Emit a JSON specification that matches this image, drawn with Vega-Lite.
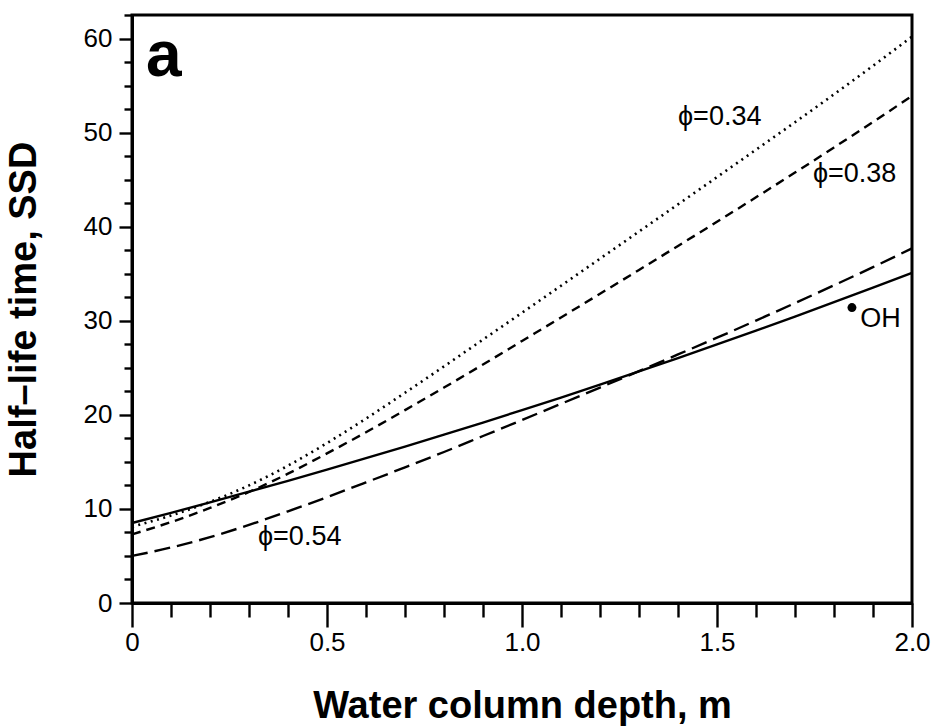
{
  "$schema": "https://vega.github.io/schema/vega-lite/v6.json",
  "width": 780,
  "height": 588,
  "autosize": {"type": "none"},
  "padding": {"left": 132, "top": 15, "right": 25, "bottom": 124},
  "background": "white",
  "config": {
    "view": {"stroke": "black", "strokeWidth": 3},
    "axis": {
      "grid": false,
      "domainColor": "black",
      "tickColor": "black",
      "labelColor": "black",
      "labelFont": "Liberation Sans",
      "labelFontSize": 26,
      "titleFont": "Liberation Sans",
      "titleFontWeight": "bold",
      "titleColor": "black"
    }
  },
  "datasets": {
    "curves": [
      {"x": 0.0, "y": 8.5, "series": "OH"}, {"x": 0.1, "y": 9.58, "series": "OH"}, {"x": 0.2, "y": 10.69, "series": "OH"}, {"x": 0.3, "y": 11.83, "series": "OH"}, {"x": 0.4, "y": 12.99, "series": "OH"}, {"x": 0.5, "y": 14.18, "series": "OH"}, {"x": 0.6, "y": 15.39, "series": "OH"}, {"x": 0.7, "y": 16.63, "series": "OH"}, {"x": 0.8, "y": 17.89, "series": "OH"}, {"x": 0.9, "y": 19.18, "series": "OH"}, {"x": 1.0, "y": 20.5, "series": "OH"}, {"x": 1.1, "y": 21.84, "series": "OH"}, {"x": 1.2, "y": 23.21, "series": "OH"}, {"x": 1.3, "y": 24.61, "series": "OH"}, {"x": 1.4, "y": 26.03, "series": "OH"}, {"x": 1.5, "y": 27.48, "series": "OH"}, {"x": 1.6, "y": 28.95, "series": "OH"}, {"x": 1.7, "y": 30.45, "series": "OH"}, {"x": 1.8, "y": 31.97, "series": "OH"}, {"x": 1.9, "y": 33.52, "series": "OH"}, {"x": 2.0, "y": 35.1, "series": "OH"},
      {"x": 0.0, "y": 5.0, "series": "0.54"}, {"x": 0.1, "y": 5.9, "series": "0.54"}, {"x": 0.2, "y": 7.0, "series": "0.54"}, {"x": 0.3, "y": 8.3, "series": "0.54"}, {"x": 0.4, "y": 9.75, "series": "0.54"}, {"x": 0.5, "y": 11.25, "series": "0.54"}, {"x": 0.6, "y": 12.82, "series": "0.54"}, {"x": 0.7, "y": 14.42, "series": "0.54"}, {"x": 0.8, "y": 16.05, "series": "0.54"}, {"x": 0.9, "y": 17.75, "series": "0.54"}, {"x": 1.0, "y": 19.45, "series": "0.54"}, {"x": 1.1, "y": 21.17, "series": "0.54"}, {"x": 1.2, "y": 22.9, "series": "0.54"}, {"x": 1.3, "y": 24.65, "series": "0.54"}, {"x": 1.4, "y": 26.42, "series": "0.54"}, {"x": 1.5, "y": 28.2, "series": "0.54"}, {"x": 1.6, "y": 30.02, "series": "0.54"}, {"x": 1.7, "y": 31.88, "series": "0.54"}, {"x": 1.8, "y": 33.77, "series": "0.54"}, {"x": 1.9, "y": 35.7, "series": "0.54"}, {"x": 2.0, "y": 37.7, "series": "0.54"},
      {"x": 0.0, "y": 7.3, "series": "0.38"}, {"x": 0.1, "y": 8.6, "series": "0.38"}, {"x": 0.2, "y": 10.1, "series": "0.38"}, {"x": 0.3, "y": 11.8, "series": "0.38"}, {"x": 0.4, "y": 13.75, "series": "0.38"}, {"x": 0.5, "y": 15.9, "series": "0.38"}, {"x": 0.6, "y": 18.15, "series": "0.38"}, {"x": 0.7, "y": 20.5, "series": "0.38"}, {"x": 0.8, "y": 22.9, "series": "0.38"}, {"x": 0.9, "y": 25.35, "series": "0.38"}, {"x": 1.0, "y": 27.85, "series": "0.38"}, {"x": 1.1, "y": 30.35, "series": "0.38"}, {"x": 1.2, "y": 32.87, "series": "0.38"}, {"x": 1.3, "y": 35.4, "series": "0.38"}, {"x": 1.4, "y": 37.95, "series": "0.38"}, {"x": 1.5, "y": 40.52, "series": "0.38"}, {"x": 1.6, "y": 43.12, "series": "0.38"}, {"x": 1.7, "y": 45.75, "series": "0.38"}, {"x": 1.8, "y": 48.42, "series": "0.38"}, {"x": 1.9, "y": 51.13, "series": "0.38"}, {"x": 2.0, "y": 53.9, "series": "0.38"},
      {"x": 0.0, "y": 8.1, "series": "0.34"}, {"x": 0.1, "y": 9.3, "series": "0.34"}, {"x": 0.2, "y": 10.75, "series": "0.34"}, {"x": 0.3, "y": 12.5, "series": "0.34"}, {"x": 0.4, "y": 14.6, "series": "0.34"}, {"x": 0.5, "y": 17.0, "series": "0.34"}, {"x": 0.6, "y": 19.6, "series": "0.34"}, {"x": 0.7, "y": 22.35, "series": "0.34"}, {"x": 0.8, "y": 25.15, "series": "0.34"}, {"x": 0.9, "y": 28.0, "series": "0.34"}, {"x": 1.0, "y": 30.85, "series": "0.34"}, {"x": 1.1, "y": 33.72, "series": "0.34"}, {"x": 1.2, "y": 36.6, "series": "0.34"}, {"x": 1.3, "y": 39.48, "series": "0.34"}, {"x": 1.4, "y": 42.37, "series": "0.34"}, {"x": 1.5, "y": 45.27, "series": "0.34"}, {"x": 1.6, "y": 48.18, "series": "0.34"}, {"x": 1.7, "y": 51.1, "series": "0.34"}, {"x": 1.8, "y": 54.07, "series": "0.34"}, {"x": 1.9, "y": 57.1, "series": "0.34"}, {"x": 2.0, "y": 60.2, "series": "0.34"}
    ],
    "labels": [
      {"x": 1.4, "y": 50.8, "text": "ϕ=0.34"},
      {"x": 1.746, "y": 44.75, "text": "ϕ=0.38"},
      {"x": 0.323, "y": 6.2, "text": "ϕ=0.54"},
      {"x": 1.867, "y": 29.3, "text": "OH"}
    ],
    "panel": [{"x": 0.036, "y": 56.0, "text": "a"}],
    "points": [{"x": 1.846, "y": 31.4}]
  },
  "encoding": {
    "x": {
      "field": "x", "type": "quantitative",
      "scale": {"domain": [0, 2], "nice": false, "zero": false},
      "axis": {
        "title": "Water column depth, m",
        "titleFontSize": 38,
        "titlePadding": 32,
        "values": [0, 0.1, 0.2, 0.3, 0.4, 0.5, 0.6, 0.7, 0.8, 0.9, 1.0, 1.1, 1.2, 1.3, 1.4, 1.5, 1.6, 1.7, 1.8, 1.9, 2.0],
        "labelExpr": "abs(datum.value*2 - round(datum.value*2)) < 0.000001 ? (datum.value == 0 ? '0' : format(datum.value, '.1f')) : ''",
        "tickSize": {"condition": {"test": "abs(datum.value*2 - round(datum.value*2)) < 0.000001", "value": 24}, "value": 14},
        "tickWidth": 2.4,
        "domainWidth": 3,
        "labelPadding": 2,
        "labelFlush": false,
        "labelOverlap": false
      }
    },
    "y": {
      "field": "y", "type": "quantitative",
      "scale": {"domain": [0, 62.5], "nice": false, "zero": false},
      "axis": {
        "title": "Half–life time, SSD",
        "titleFontSize": 38,
        "titlePadding": 40,
        "values": [0, 2.5, 5, 7.5, 10, 12.5, 15, 17.5, 20, 22.5, 25, 27.5, 30, 32.5, 35, 37.5, 40, 42.5, 45, 47.5, 50, 52.5, 55, 57.5, 60, 62.5],
        "labelExpr": "datum.value % 10 == 0 ? format(datum.value, 'd') : ''",
        "tickSize": {"condition": {"test": "datum.value % 10 == 0", "value": 13}, "value": 8},
        "tickWidth": 2.4,
        "domainWidth": 3,
        "labelPadding": 7,
        "labelFlush": false,
        "labelOverlap": false
      }
    }
  },
  "layer": [
    {
      "data": {"name": "curves"},
      "transform": [{"filter": "datum.series == 'OH'"}],
      "mark": {"type": "line", "color": "black", "strokeWidth": 2.4, "interpolate": "monotone"}
    },
    {
      "data": {"name": "curves"},
      "transform": [{"filter": "datum.series == '0.54'"}],
      "mark": {"type": "line", "color": "black", "strokeWidth": 2.4, "interpolate": "monotone", "strokeDash": [16, 7]}
    },
    {
      "data": {"name": "curves"},
      "transform": [{"filter": "datum.series == '0.38'"}],
      "mark": {"type": "line", "color": "black", "strokeWidth": 2.4, "interpolate": "monotone", "strokeDash": [9, 6]}
    },
    {
      "data": {"name": "curves"},
      "transform": [{"filter": "datum.series == '0.34'"}],
      "mark": {"type": "line", "color": "black", "strokeWidth": 2.6, "interpolate": "monotone", "strokeDash": [2, 4.5]}
    },
    {
      "data": {"name": "points"},
      "mark": {"type": "point", "filled": true, "color": "black", "size": 80, "opacity": 1}
    },
    {
      "data": {"name": "labels"},
      "mark": {"type": "text", "align": "left", "baseline": "alphabetic", "font": "Liberation Sans", "fontSize": 27, "color": "black"},
      "encoding": {"text": {"field": "text"}}
    },
    {
      "data": {"name": "panel"},
      "mark": {"type": "text", "align": "left", "baseline": "alphabetic", "font": "Liberation Sans", "fontWeight": "bold", "fontSize": 64, "color": "black"},
      "encoding": {"text": {"field": "text"}}
    }
  ]
}
